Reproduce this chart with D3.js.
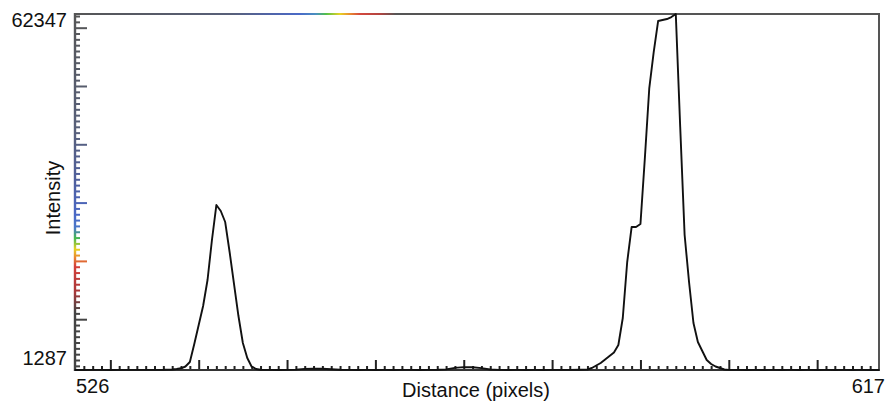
<!DOCTYPE html>
<html>
<head>
<meta charset="utf-8">
<script src="https://cdn.jsdelivr.net/npm/d3@7"></script>
<style>
  body { margin: 0; background: #fff; }
  text { font-family: "Liberation Sans", Arial, sans-serif; fill: #111; }
</style>
</head>
<body>
<div id="chart"></div>
<script>
(function() {
  // profile along the line (half-pixel samples across the two peaks)
  var distance = [526, 527, 528, 529, 530, 531, 532, 533, 534, 535, 536,
    537, 537.5, 538, 538.5, 539, 539.5, 540, 540.5, 541, 541.5, 542, 542.5,
    543, 543.5, 544, 544.5, 545, 545.5, 546, 546.5, 547,
    548, 549, 550, 551, 552, 553, 554, 555, 556, 557, 558, 559, 560, 561, 562, 563,
    564, 565, 566, 567, 568, 569, 570, 571, 572, 573, 574, 575, 576, 577, 578, 579,
    580, 581, 582, 583,
    584, 584.5, 585, 585.5, 586, 586.5, 587, 587.5, 588, 588.5, 589, 589.5,
    590, 590.5, 591, 591.5, 592, 592.5, 593, 593.5, 594, 594.5, 595, 595.5,
    596, 596.5, 597, 597.5, 598, 598.5, 599, 599.5, 600,
    601, 602, 603, 604, 605, 606, 607, 608, 609, 610, 611, 612, 613, 614, 615, 616, 617];
  var intensity = [1290, 1290, 1300, 1300, 1290, 1300, 1310, 1300, 1300, 1310, 1320,
    1373, 1458, 1579, 1887, 2659, 5746, 9005, 12263, 16722, 23582, 29585, 28556,
    26669, 21524, 16036, 10548, 5917, 3345, 1853, 1458, 1330,
    1300, 1290, 1300, 1350, 1480, 1520, 1500, 1420, 1320, 1300, 1290, 1300, 1290, 1300, 1290, 1300,
    1300, 1290, 1300, 1320, 1400, 1650, 1780, 1760, 1600, 1380, 1300, 1290, 1300, 1290, 1300, 1290,
    1300, 1310, 1300, 1320,
    1373, 1630, 2059, 2488, 3088, 3688, 4288, 5575, 10205, 19809, 25812, 25812,
    26326, 37646, 49650, 55824, 61140, 61312, 61484, 61827, 62347, 42960, 24440, 16379,
    9347, 6089, 4546, 3002, 2316, 1887, 1630, 1373, 1300,
    1300, 1290, 1300, 1290, 1300, 1290, 1300, 1290, 1300, 1290, 1300, 1290, 1300, 1290, 1300, 1290, 1290];
  var yLabels = [1287, 62347];
  var xLabels = [526, 617];
  var yMajor = [10000, 20000, 30000, 40000, 50000, 60000];
  var xMajor = [530, 540, 550, 560, 570, 580, 590, 600, 610];

  var W = 887, H = 401;
  var m = {left: 75, right: 8, top: 14, bottom: 31};

  var svg = d3.select("#chart").append("svg")
    .attr("width", W)
    .attr("height", H);

  var x = d3.scaleLinear().domain([xLabels[0], xLabels[1]]).range([m.left, W - m.right]);
  var y = d3.scaleLinear().domain([yLabels[0], yLabels[1]]).range([H - m.bottom, m.top]);

  // colour bar painted along the left and top edges
  var leftStops = [[14, "#555"], [130, "#58607a"], [180, "#4f5f9c"], [215, "#4a68c6"], [228, "#4a78c8"],
    [238, "#44b850"], [249, "#e6d024"], [257, "#e98a30"], [266, "#d4403a"], [292, "#a8383a"], [312, "#444"], [370, "#444"]];
  var topStops = [[75, "#555"], [232, "#58607a"], [270, "#5064a8"], [300, "#4a6ac8"], [316, "#4a90c0"],
    [326, "#52c048"], [340, "#e8d224"], [350, "#e98a30"], [360, "#d4483e"], [380, "#b24440"], [396, "#555"], [879, "#555"]];

  var leftColor = d3.scaleLinear()
    .domain(leftStops.map(function(s) { return s[0]; }))
    .range(leftStops.map(function(s) { return s[1]; }));

  var defs = svg.append("defs");
  var addGrad = function(id, stops, vertical) {
    var g = defs.append("linearGradient")
      .attr("id", id)
      .attr("gradientUnits", "userSpaceOnUse")
      .attr("x1", vertical ? 0 : stops[0][0])
      .attr("x2", vertical ? 0 : stops[stops.length - 1][0])
      .attr("y1", vertical ? stops[0][0] : 0)
      .attr("y2", vertical ? stops[stops.length - 1][0] : 0);
    var lo = stops[0][0], hi = stops[stops.length - 1][0];
    g.selectAll("stop").data(stops).enter().append("stop")
      .attr("offset", function(d) { return (d[0] - lo) / (hi - lo); })
      .attr("stop-color", function(d) { return d[1]; });
  };
  addGrad("gLeft", leftStops, true);
  addGrad("gTop", topStops, false);

  // frame: top and right
  svg.append("line")
    .attr("x1", m.left).attr("x2", W - m.right)
    .attr("y1", m.top).attr("y2", m.top)
    .attr("stroke", "url(#gTop)")
    .attr("stroke-width", 2.2);
  svg.append("line")
    .attr("x1", W - m.right).attr("x2", W - m.right)
    .attr("y1", m.top - 1).attr("y2", H - m.bottom)
    .attr("stroke", "#555")
    .attr("stroke-width", 2);

  // y axis, ticks pointing inward
  var yMinor = y.ticks(62).filter(function(d) { return d > yLabels[0] && d % 10000 !== 0; });
  var yAxisMinor = svg.append("g")
    .attr("transform", "translate(" + m.left + ",0)")
    .call(d3.axisLeft(y).tickValues(yMinor).tickSizeInner(-5).tickSizeOuter(0).tickFormat(""));
  var yAxisMajor = svg.append("g")
    .attr("transform", "translate(" + m.left + ",0)")
    .call(d3.axisLeft(y).tickValues(yMajor).tickSizeInner(-12).tickSizeOuter(0).tickFormat(""));
  [yAxisMinor, yAxisMajor].forEach(function(ax) {
    ax.selectAll(".tick line")
      .attr("stroke", function(d) { return leftColor(y(d)); })
      .attr("stroke-width", 2);
    ax.select(".domain").remove();
  });
  svg.append("line")
    .attr("x1", m.left).attr("x2", m.left)
    .attr("y1", m.top - 1).attr("y2", H - m.bottom + 1)
    .attr("stroke", "url(#gLeft)")
    .attr("stroke-width", 2.4);

  // x axis, ticks pointing inward
  var xMinor = x.ticks(91).filter(function(d) { return d > xLabels[0] && d < xLabels[1] && d % 10 !== 0; });
  var xAxisMinor = svg.append("g")
    .attr("transform", "translate(0," + (H - m.bottom) + ")")
    .call(d3.axisBottom(x).tickValues(xMinor).tickSizeInner(-4).tickSizeOuter(0).tickFormat(""));
  var xAxisMajor = svg.append("g")
    .attr("transform", "translate(0," + (H - m.bottom) + ")")
    .call(d3.axisBottom(x).tickValues(xMajor).tickSizeInner(-10).tickSizeOuter(0).tickFormat(""));
  [xAxisMinor, xAxisMajor].forEach(function(ax) {
    ax.selectAll(".tick line").attr("stroke", "#222").attr("stroke-width", 2);
    ax.select(".domain").remove();
  });
  svg.append("line")
    .attr("x1", m.left - 1).attr("x2", W - m.right + 1)
    .attr("y1", H - m.bottom).attr("y2", H - m.bottom)
    .attr("stroke", "#333")
    .attr("stroke-width", 2.2);

  // profile line
  var line = d3.line()
    .x(function(d, i) { return x(distance[i]); })
    .y(function(d) { return y(d); });
  svg.append("path")
    .datum(intensity)
    .attr("d", line)
    .attr("fill", "none")
    .attr("stroke", "#111")
    .attr("stroke-width", 1.9)
    .attr("stroke-linejoin", "round");

  // end labels
  svg.append("text")
    .attr("x", m.left - 8).attr("y", y(yLabels[1]) + 13)
    .attr("text-anchor", "end")
    .style("font-size", "20px")
    .text(yLabels[1]);
  svg.append("text")
    .attr("x", m.left - 8).attr("y", y(yLabels[0]) - 5)
    .attr("text-anchor", "end")
    .style("font-size", "20px")
    .text(yLabels[0]);
  svg.append("text")
    .attr("x", x(xLabels[0]) + 1).attr("y", 393)
    .attr("text-anchor", "start")
    .style("font-size", "20px")
    .text(xLabels[0]);
  svg.append("text")
    .attr("x", x(xLabels[1]) + 6).attr("y", 393)
    .attr("text-anchor", "end")
    .style("font-size", "20px")
    .text(xLabels[1]);

  svg.append("text")
    .attr("x", 476).attr("y", 397)
    .attr("text-anchor", "middle")
    .style("font-size", "20px")
    .text("Distance (pixels)");
  svg.append("text")
    .attr("transform", "translate(60,198) rotate(-90)")
    .attr("text-anchor", "middle")
    .style("font-size", "20px")
    .text("Intensity");
})();
</script>
</body>
</html>
